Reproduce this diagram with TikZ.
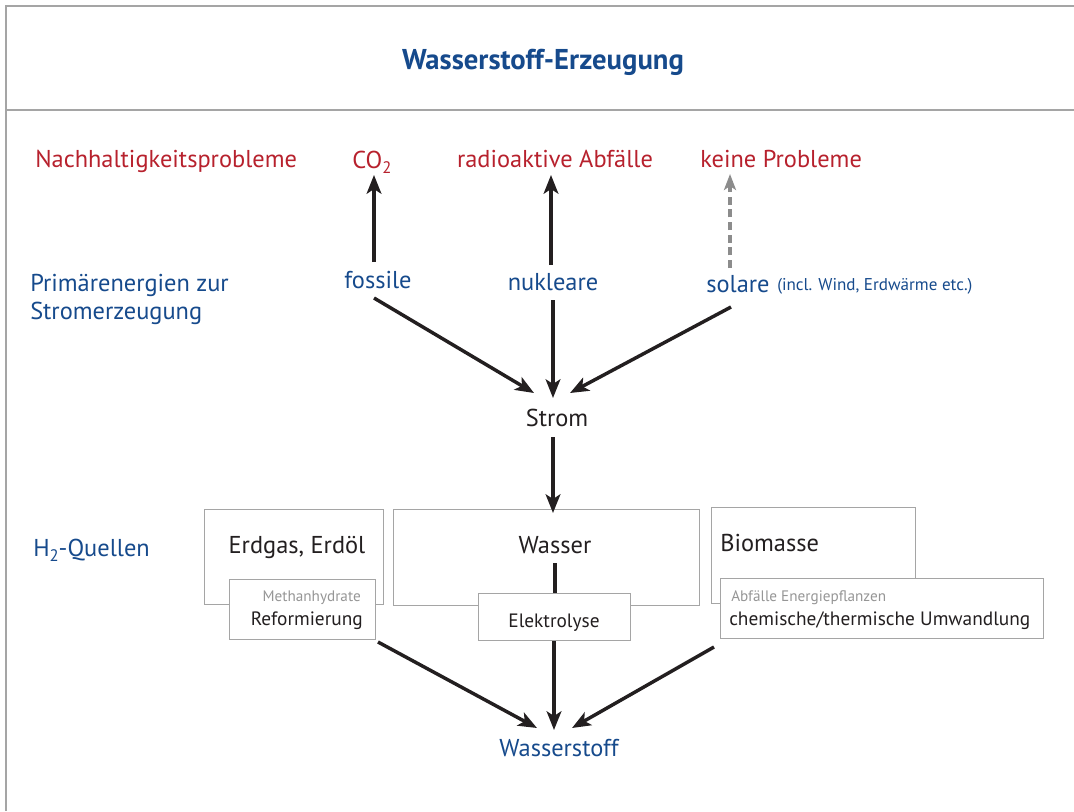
\documentclass[tikz,border=0pt]{standalone}
\usepackage{fontspec}
\setmainfont{PT Sans}
\usetikzlibrary{arrows.meta}
\definecolor{dred}{RGB}{183,33,45}
\definecolor{dblue}{RGB}{22,74,140}
\definecolor{boxgray}{RGB}{165,165,165}
\definecolor{arrblack}{RGB}{35,31,32}
\definecolor{lgray}{RGB}{150,150,150}
\definecolor{dashgray}{RGB}{140,140,140}
\newcommand{\mysub}[1]{\raisebox{-0.4ex}{\fontsize{12.5}{12.5}\selectfont #1}}
\begin{document}
\begin{tikzpicture}[x=0.75pt,y=-0.75pt,
  framel/.style={draw=boxgray, line width=1.5pt},
  txt/.style={inner sep=0pt, font=\fontsize{18.3}{21}\selectfont},
  redtxt/.style={txt, text=dred},
  bluetxt/.style={txt, text=dblue},
  blacktxt/.style={txt, text=arrblack},
  midtxt/.style={inner sep=0pt, text=arrblack, font=\fontsize{14.5}{17}\selectfont},
  smalltxt/.style={inner sep=0pt, font=\fontsize{11.4}{13}\selectfont},
  box/.style={draw=boxgray, line width=1.1pt, fill=white, anchor=north west, inner sep=0pt},
  arr/.style={draw=arrblack, line width=2.6pt, -{Stealth[length=14pt,width=11pt,inset=3.5pt]}},
  plainline/.style={draw=arrblack, line width=2.6pt},
  dasharr/.style={draw=dashgray, line width=2.4pt, dash pattern=on 6pt off 3.5pt, -{Stealth[length=12pt,width=9pt,inset=3pt]}}
]
\useasboundingbox (0,0) rectangle (1074,811);
\draw[framel] (6,811) -- (6,6) -- (1074,6);
\draw[framel] (6,110) -- (1074,110);

% title
\node[inner sep=0pt, text=dblue, font=\fontsize{21.5}{24}\selectfont\bfseries] (title) at (543,62) {Wasserstoff-Erzeugung};

% row labels
\node[redtxt, anchor=west] (nach) at (35,161) {Nachhaltigkeitsprobleme};
\node[bluetxt, anchor=west, align=left] (prim) at (30,299) {Primärenergien zur\\Stromerzeugung};
\node[bluetxt, anchor=west] (hq) at (33,550) {H\mysub{2}-Quellen};

% problems
\node[redtxt, anchor=west] (co2) at (352,162) {CO\mysub{2}};
\node[redtxt] (radio) at (555,159) {radioaktive Abfälle};
\node[redtxt, anchor=west] (keine) at (700,159) {keine Probleme};

% primary energies
\node[bluetxt] (fossile) at (378,280) {fossile};
\node[bluetxt] (nukleare) at (553,282) {nukleare};
\node[bluetxt, anchor=west] (solare) at (706,284) {solare};
\node[smalltxt, text=dblue, font=\fontsize{12.8}{15}\selectfont, anchor=west] (incl) at (777,286) {(incl. Wind, Erdwärme etc.)};

% Strom
\node[blacktxt] (strom) at (557,418) {Strom};

% boxes
\node[box, minimum width=134.25pt, minimum height=71.25pt] (erdgasbox) at (204,509) {};
\node[box, minimum width=109.5pt, minimum height=45pt] (refbox) at (229,579) {};
\node[box, minimum width=229.5pt, minimum height=72pt] (wasserbox) at (393,509) {};
\node[box, minimum width=153pt, minimum height=72pt] (biobox) at (711,507) {};
\node[box, minimum width=242.25pt, minimum height=45pt] (chembox) at (720,578) {};

\node[blacktxt] (erdgas) at (297,547) {Erdgas, Erdöl};
\node[smalltxt, text=lgray, anchor=east] (methan) at (361,598) {Methanhydrate};
\node[midtxt, anchor=east] (reform) at (363,621) {Reformierung};
\node[blacktxt] (wasser) at (555,545) {Wasser};
\node[blacktxt, anchor=west] (biomasse) at (720,543) {Biomasse};
\node[smalltxt, text=lgray, anchor=west] (abf) at (731,598) {Abfälle Energiepflanzen};
\node[midtxt, anchor=west] (chem) at (729,621) {chemische/thermische Umwandlung};

% line Wasser -> Elektrolyse
\coordinate (wl1) at (555,563);
\coordinate (wl2) at (555,600);
\draw[plainline] (wl1) -- (wl2);
\node[box, minimum width=114pt, minimum height=35.25pt] (elbox) at (478,593) {};
\node[midtxt] (elektro) at (554,623) {Elektrolyse};

\node[bluetxt] (wstoff) at (559,748) {Wasserstoff};

% arrows up
\coordinate (f1) at (374,262); \coordinate (f2) at (374,175);
\coordinate (n1) at (551,265); \coordinate (n2) at (551,175);
\coordinate (s1) at (730,268); \coordinate (s2) at (730,174);
\draw[arr] (f1) -- (f2);
\draw[arr] (n1) -- (n2);
\draw[dasharr] (s1) -- (s2);

% arrows to Strom
\coordinate (fa) at (374,298); \coordinate (fb) at (534,393);
\coordinate (na) at (553,300); \coordinate (nb) at (553,398);
\coordinate (sa) at (731,307); \coordinate (sb) at (570,393);
\draw[arr] (fa) -- (fb);
\draw[arr] (na) -- (nb);
\draw[arr] (sa) -- (sb);

% Strom -> Wasser
\coordinate (sw1) at (553,437); \coordinate (sw2) at (553,513);
\draw[arr] (sw1) -- (sw2);

% to Wasserstoff
\coordinate (ra) at (378,642); \coordinate (rb) at (537,728);
\coordinate (ea) at (554,641); \coordinate (eb) at (554,730);
\coordinate (ca) at (714,647); \coordinate (cb) at (572,728);
\draw[arr] (ra) -- (rb);
\draw[arr] (ea) -- (eb);
\draw[arr] (ca) -- (cb);
\end{tikzpicture}
\end{document}
